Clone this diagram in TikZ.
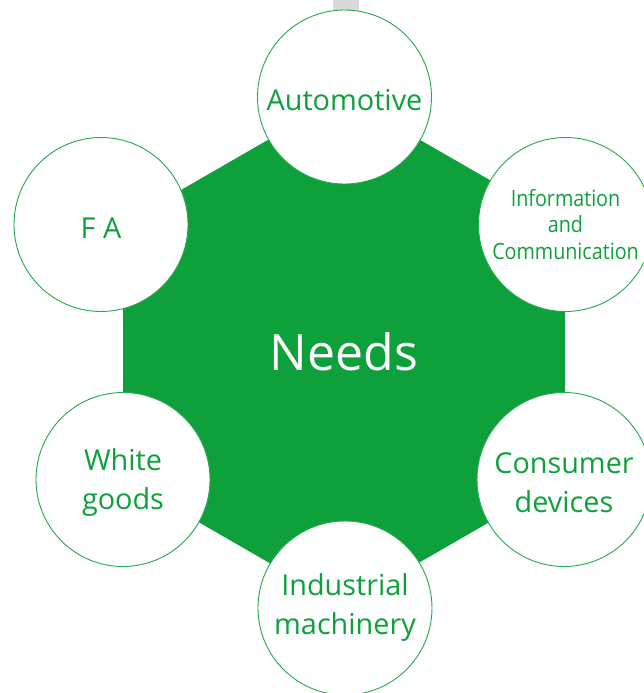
\documentclass[tikz,border=0pt]{standalone}
\usepackage{fontspec}
\setmainfont{Open Sans}
\newfontfamily\condfont[FakeStretch=0.88]{Open Sans}
\definecolor{needgreen}{RGB}{14,161,59}
\definecolor{ringgreen}{RGB}{40,168,78}
\definecolor{bargray}{RGB}{218,216,216}
\newcommand\lowertxt{\rule{0pt}{27.5pt}}
\tikzset{
  bubble/.style={circle, draw=ringgreen, line width=0.9pt, fill=white,
    minimum size=174pt, inner sep=0pt, text=needgreen, align=center,
    font=\fontsize{28.8}{39}\selectfont},
}
\begin{document}
\begin{tikzpicture}[x=1pt,y=-1pt]
\useasboundingbox (0,0) rectangle (644,693);
\clip (0,0) rectangle (644,693);
% gray bar at top
\fill[bargray] (333,0) rectangle (359,14);
% hexagon
\fill[needgreen] (344,96) -- (565,223.5) -- (565,478.5) -- (344,606)
  -- (123,478.5) -- (123,223.5) -- cycle;
\node[text=white, font=\fontsize{50}{60}\selectfont] (needs) at (344,352) {Needs};
% bubbles
\node[bubble] (auto) at (344.5,97) {\lowertxt Automotive};
\node[bubble, font=\condfont\fontsize{22.4}{26.5}\selectfont] (info) at (565.5,224.5) {Information\\and\\Communication};
\node[bubble] (fa) at (101,224.5) {\lowertxt F A};
\node[bubble] (white) at (123,479.5) {\lowertxt White\\goods};
\node[bubble] (consumer) at (564,479.5) {\lowertxt Consumer\\devices};
\node[bubble] (industrial) at (345,608) {Industrial\\machinery};
\end{tikzpicture}
\end{document}
